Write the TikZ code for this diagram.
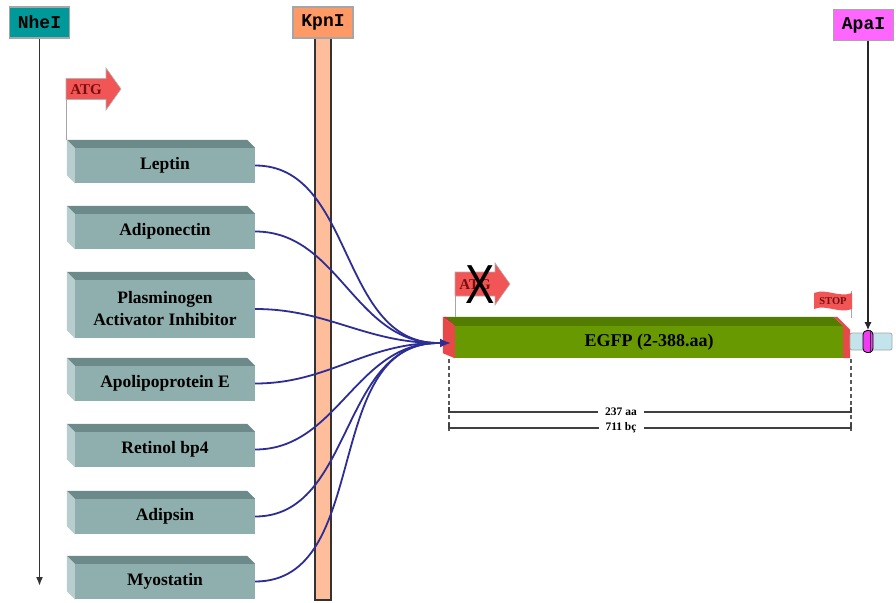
\documentclass[tikz,border=0pt]{standalone}
\usepackage{fontspec}
\setmainfont{Liberation Serif}
\setmonofont{Liberation Mono}
\newfontfamily\crossfont{Liberation Sans}
\usetikzlibrary{arrows.meta}

\definecolor{nheteal}{RGB}{0,153,153}
\definecolor{kpnorange}{RGB}{255,153,102}
\definecolor{kpnbarfill}{RGB}{255,190,155}
\definecolor{apamag}{RGB}{255,102,255}
\definecolor{boxfront}{RGB}{143,174,174}
\definecolor{boxtop}{RGB}{108,138,138}
\definecolor{boxside}{RGB}{184,205,205}
\definecolor{linkblue}{RGB}{45,45,150}
\definecolor{gfpfront}{RGB}{104,153,0}
\definecolor{gfptop}{RGB}{82,125,0}
\definecolor{capred}{RGB}{232,72,72}
\definecolor{capdark}{RGB}{196,52,52}
\definecolor{atgred}{RGB}{242,85,85}
\definecolor{atgtext}{RGB}{120,15,15}
\definecolor{vecblue}{RGB}{195,228,234}
\definecolor{ringmag}{RGB}{240,60,240}

\tikzset{
  enzyme/.style={draw=gray!70, line width=1.2pt, font=\ttfamily\bfseries\fontsize{18}{18}\selectfont,
    minimum width=60pt, minimum height=31pt, inner sep=0pt},
  genebox/.style={fill=boxfront, minimum width=180pt, inner sep=0pt, align=center,
    font=\bfseries\fontsize{17.5}{22}\selectfont},
  link/.style={draw=linkblue, line width=1.8pt},
  atgshape/.style={fill=atgred, draw=gray!60, line width=0.6pt},
  atglabel/.style={text=atgtext, font=\bfseries\fontsize{15}{15}\selectfont, inner sep=0pt},
  pole/.style={draw=gray!70, line width=1pt},
  dimline/.style={draw=black!75, line width=1.4pt},
  dimdash/.style={draw=black!65, line width=1.2pt, dash pattern=on 4pt off 3pt},
  dimlabel/.style={fill=white, inner xsep=7pt, inner ysep=1pt, font=\bfseries\fontsize{11.5}{11.5}\selectfont},
}

% a bevelled box: front face as a node, top and left faces drawn behind its edges
\newcommand{\genebox}[4]{%
  \node[genebox, minimum height=#3] (#1) at (165,#2) {#4};
  \fill[boxtop] (#1.north west) -- ++(-8,-8) -- ([shift={(-8,-8)}]#1.north east) -- (#1.north east) -- cycle;
  \fill[boxside] (#1.north west) -- ++(-8,-8) -- ([shift={(-8,-8)}]#1.south west) -- (#1.south west) -- cycle;
}

\begin{document}
\begin{tikzpicture}[x=1pt,y=-1pt]
\useasboundingbox (0,0) rectangle (896,602);
\fill[white] (0,0) rectangle (896,602);

% restriction sites
\node[enzyme, fill=nheteal] (nhe) at (39.5,22.5) {NheI};
\coordinate (nheend) at (39.5,586);
\draw[black!80, line width=1.7pt, -{Latex[length=9pt,width=7pt]}] (nhe.south) -- (nheend);

\node[draw=black!80, line width=1.2pt, fill=kpnbarfill, minimum width=16pt, minimum height=562pt, inner sep=0pt] (kbar) at (323,319) {};
\node[enzyme, fill=kpnorange] (kpn) at (323,22.5) {KpnI};

\node[enzyme, fill=apamag] (apa) at (863.5,25) {ApaI};

% start codon flag
\path[atgshape] (66,78.5) -- (106,78.5) -- (106,68) -- (121,89) -- (106,110) -- (106,99.5) -- (66,99.5) -- cycle;
\node[atglabel] (atgA) at (86,90) {ATG};
\draw[pole] (66,99.5) -- (66,140);

% gene boxes
\genebox{leptin}{165.5}{35pt}{Leptin}
\genebox{adipo}{231.5}{35pt}{Adiponectin}
\genebox{pai}{309}{58pt}{Plasminogen\\Activator Inhibitor}
\genebox{apoe}{383.5}{35pt}{Apolipoprotein E}
\genebox{rbp}{449.5}{35pt}{Retinol bp4}
\genebox{adipsin}{516.5}{35pt}{Adipsin}
\genebox{myo}{581.5}{35pt}{Myostatin}

% EGFP bar
\node[fill=gfpfront, minimum width=388pt, minimum height=32pt, inner sep=0pt,
  font=\bfseries\fontsize{18}{18}\selectfont] (egfp) at (649,342) {EGFP (2-388.aa)};
\fill[gfptop] (egfp.north west) -- ++(-10,-9) -- ([shift={(-10,-9)}]egfp.north east) -- (egfp.north east) -- cycle;
\fill[capred] (egfp.north west) -- ++(-12,-9) -- ([shift={(-12,-5)}]egfp.south west) -- (egfp.south west) -- cycle;
\fill[capdark] (egfp.north west) -- ++(-12,-9) -- ++(3,0) -- cycle;
\fill[capred] ([shift={(-10,-9)}]egfp.north east) -- ([shift={(-6,-9)}]egfp.north east)
  -- ([shift={(7,4)}]egfp.north east) -- ([xshift=7]egfp.south east) -- (egfp.south east) -- (egfp.north east) -- cycle;

% vector backbone with ApaI site
\node[draw=gray!70, line width=0.8pt, fill=vecblue, rounded corners=2pt, minimum width=42pt,
  minimum height=17pt, inner sep=0pt] (vec) at (871,341.5) {};
\node[draw=black, line width=0.8pt, fill=ringmag, rounded corners=4pt, minimum width=10pt,
  minimum height=22pt, inner sep=0pt] (ring) at (868,341.5) {};
\draw[black!80, line width=0.6pt] ([xshift=2pt]ring.north) -- ([xshift=2pt]ring.south);
\draw[black!85, line width=1.1pt, -{Latex[length=8pt,width=7pt]}] (apa.south -| ring.north) -- (ring.north);

% mutated start codon flag
\path[atgshape] (455,272) -- (495,272) -- (495,263) -- (510,284) -- (495,305) -- (495,296) -- (455,296) -- cycle;
\node[atglabel] (atgB) at (475,285) {ATG};
\draw[pole] (455,296) -- (455,317);
\node[inner sep=0pt, font=\crossfont\fontsize{55}{55}\selectfont] (cross) at (480,285) {\scalebox{0.8}[1]{X}};

% stop codon flag
\draw[pole] (851,291) -- (851,318);
\path[fill=atgred] (814,293) .. controls (826,288) and (839,298) .. (852,293) -- (852,309)
  .. controls (839,314) and (826,304) .. (814,309) -- cycle;
\node[text=atgtext, inner sep=0pt, font=\bfseries\fontsize{10.5}{10.5}\selectfont] (stop) at (833,301) {STOP};

% fusion connectors
\coordinate (hub) at (438,343);
\coordinate (tip) at (451,343);
\draw[link] (leptin.east) to[out=0,in=180] (hub);
\draw[link] (adipo.east) to[out=0,in=180] (hub);
\draw[link] (pai.east) to[out=0,in=180] (hub);
\draw[link] (apoe.east) to[out=0,in=180] (hub);
\draw[link] (rbp.east) to[out=0,in=180] (hub);
\draw[link] (adipsin.east) to[out=0,in=180] (hub);
\draw[link] (myo.east) to[out=0,in=180] (hub);
\draw[link, -{Latex[length=11pt,width=9pt]}] (hub) -- (tip);

% length annotations
\draw[dimdash] (449,359) -- (449,431);
\draw[dimdash] (851,359) -- (851,431);
\draw[dimline] (449,407) -- (449,412) -- (851,412) -- (851,407);
\node[dimlabel] (aa) at (621,412) {237 aa};
\draw[dimline] (449,423) -- (449,428) -- (851,428) -- (851,423);
\node[dimlabel] (bp) at (621,428) {711 bç};
\end{tikzpicture}
\end{document}
